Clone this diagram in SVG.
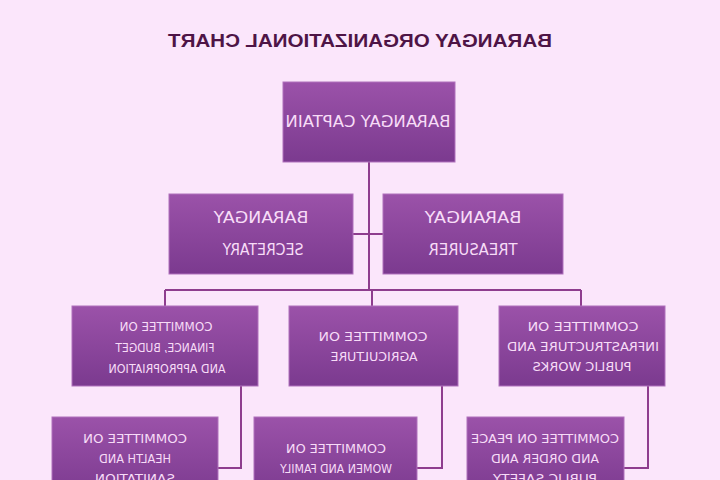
<svg xmlns="http://www.w3.org/2000/svg" width="720" height="480" viewBox="0 0 720 480">
<defs>
<linearGradient id="g" x1="0" y1="0" x2="0" y2="1">
<stop offset="0" stop-color="#9b52a9"/>
<stop offset="1" stop-color="#7b3a8f"/>
</linearGradient>
</defs>
<style>
.box{fill:url(#g);stroke:#b070bc;stroke-width:1}
.t{font-family:"Liberation Sans Narrow","DejaVu Sans Condensed","Liberation Sans",sans-serif;fill:#f7dcf7;text-anchor:middle}
.big{font-size:15px}
.sm{font-size:13px}
.title{font-family:"Liberation Sans Narrow","Liberation Sans",sans-serif;font-size:18px;font-weight:bold;fill:#4e1446;text-anchor:middle}
.ln{fill:none;stroke:#8e3d8e;stroke-width:2}
</style>
<rect width="720" height="480" fill="#fbe6fb"/>
<text class="title" transform="translate(360,47) scale(-1,1)" textLength="384" lengthAdjust="spacingAndGlyphs">BARANGAY ORGANIZATIONAL CHART</text>
<g id="connectors">
<path class="ln" d="M369 162 V290 M353 234 H383 M165 290 H581 M165 290 V306 M372 290 V306 M581 290 V306"/>
<path class="ln" d="M241 386 V468 H218 M442 386 V468 H417 M648 386 V468 H624"/>
</g>
<g id="captain">
<rect class="box" x="283" y="82" width="172" height="80"/>
<text class="t big" transform="translate(368,127) scale(-1,1)" textLength="165" lengthAdjust="spacingAndGlyphs">BARANGAY CAPTAIN</text>
</g>
<g id="secretary">
<rect class="box" x="169" y="194" width="184" height="80"/>
<text class="t big" transform="translate(261,223) scale(-1,1)" textLength="95" lengthAdjust="spacingAndGlyphs">BARANGAY</text>
<text class="t big" transform="translate(263,255) scale(-1,1)" textLength="81" lengthAdjust="spacingAndGlyphs">SECRETARY</text>
</g>
<g id="treasurer">
<rect class="box" x="383" y="194" width="180" height="80"/>
<text class="t big" transform="translate(473,223) scale(-1,1)" textLength="97" lengthAdjust="spacingAndGlyphs">BARANGAY</text>
<text class="t big" transform="translate(473,255) scale(-1,1)" textLength="89" lengthAdjust="spacingAndGlyphs">TREASURER</text>
</g>
<g id="finance">
<rect class="box" x="72" y="306" width="186" height="80"/>
<text class="t sm" transform="translate(166,331) scale(-1,1)" textLength="93" lengthAdjust="spacingAndGlyphs">COMMITTEE ON</text>
<text class="t sm" transform="translate(165,352) scale(-1,1)" textLength="99" lengthAdjust="spacingAndGlyphs">FINANCE, BUDGET</text>
<text class="t sm" transform="translate(167,373) scale(-1,1)" textLength="117" lengthAdjust="spacingAndGlyphs">AND APPROPRIATION</text>
</g>
<g id="agriculture">
<rect class="box" x="289" y="306" width="169" height="80"/>
<text class="t sm" transform="translate(373,341) scale(-1,1)" textLength="109" lengthAdjust="spacingAndGlyphs">COMMITTEE ON</text>
<text class="t sm" transform="translate(374,361) scale(-1,1)" textLength="87" lengthAdjust="spacingAndGlyphs">AGRICULTURE</text>
</g>
<g id="infrastructure">
<rect class="box" x="499" y="306" width="166" height="80"/>
<text class="t sm" transform="translate(583,331) scale(-1,1)" textLength="111" lengthAdjust="spacingAndGlyphs">COMMITTEE ON</text>
<text class="t sm" transform="translate(583,351) scale(-1,1)" textLength="152" lengthAdjust="spacingAndGlyphs">INFRASTRUCTURE AND</text>
<text class="t sm" transform="translate(582,371) scale(-1,1)" textLength="99" lengthAdjust="spacingAndGlyphs">PUBLIC WORKS</text>
</g>
<g id="health">
<rect class="box" x="52" y="417" width="166" height="80"/>
<text class="t sm" transform="translate(135,443) scale(-1,1)" textLength="104" lengthAdjust="spacingAndGlyphs">COMMITTEE ON</text>
<text class="t sm" transform="translate(135,463) scale(-1,1)" textLength="72" lengthAdjust="spacingAndGlyphs">HEALTH AND</text>
<text class="t sm" transform="translate(135,483) scale(-1,1)" textLength="80" lengthAdjust="spacingAndGlyphs">SANITATION</text>
</g>
<g id="women">
<rect class="box" x="254" y="417" width="163" height="80"/>
<text class="t sm" transform="translate(336,453) scale(-1,1)" textLength="100" lengthAdjust="spacingAndGlyphs">COMMITTEE ON</text>
<text class="t sm" transform="translate(336,473) scale(-1,1)" textLength="112" lengthAdjust="spacingAndGlyphs">WOMEN AND FAMILY</text>
</g>
<g id="peace">
<rect class="box" x="467" y="417" width="157" height="80"/>
<text class="t sm" transform="translate(545,443) scale(-1,1)" textLength="148" lengthAdjust="spacingAndGlyphs">COMMITTEE ON PEACE</text>
<text class="t sm" transform="translate(545,463) scale(-1,1)" textLength="108" lengthAdjust="spacingAndGlyphs">AND ORDER AND</text>
<text class="t sm" transform="translate(545,483) scale(-1,1)" textLength="104" lengthAdjust="spacingAndGlyphs">PUBLIC SAFETY</text>
</g>
</svg>
